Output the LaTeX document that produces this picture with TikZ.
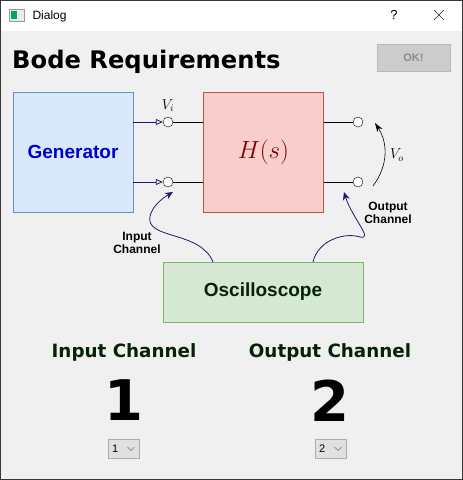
\documentclass[tikz,border=0pt]{standalone}
\usepackage{amsmath}
\usepackage{fontspec}
\setmainfont{Liberation Sans}
\newfontfamily\verdfont{DejaVu Sans}
\usepackage{tikz}
\usetikzlibrary{positioning}
\usetikzlibrary{arrows.meta}
\definecolor{winbg}{HTML}{F0F0F0}
\definecolor{genfill}{HTML}{DAE8FC}
\definecolor{gendraw}{HTML}{6C8EBF}
\definecolor{hfill}{HTML}{F8CECC}
\definecolor{hdraw}{HTML}{B85450}
\definecolor{oscfill}{HTML}{D5E8D4}
\definecolor{oscdraw}{HTML}{82B366}
\definecolor{wire}{HTML}{1A1A6E}
\definecolor{darkgreen}{HTML}{062206}

\begin{document}
\begin{tikzpicture}[x=1pt, y=-1pt,
    blockbox/.style={draw, minimum width=120pt, minimum height=120pt, inner sep=0pt},
    terminal/.style={circle, draw=black, fill=white, minimum size=10pt, inner sep=0pt},
    smalllabel/.style={align=center, font=\fontsize{12}{13}\selectfont\bfseries},
    chanlabel/.style={font=\verdfont\fontsize{18.3}{20}\selectfont\bfseries, text=darkgreen},
    bignum/.style={font=\verdfont\fontsize{56}{60}\selectfont\bfseries},
    combobox/.style={draw=black!32, fill=black!12, minimum width=31pt, minimum height=19pt, inner sep=0pt},
    probe/.style={draw=wire, thick, -{Stealth[length=8pt, width=7pt]}},
    feed/.style={draw=wire, thick, -{Triangle[open, length=7pt, width=6pt]}}]
    \useasboundingbox (0,0) rectangle (463,480);

    % window
    \fill[winbg] (0,31) rectangle (463,480);
    \fill[white] (0,0) rectangle (463,31);
    \draw[black!78, line width=1pt] (0.5,0.5) rectangle (462.5,479.5);
    \draw[black!40, fill=black!8] (9,9) rectangle (24,21);
    \fill[teal!70!green] (11,11) rectangle (17,19);
    \node[anchor=west, font=\fontsize{12}{13}\selectfont] (title) at (29,16) {Dialog};
    \node[font=\fontsize{13}{14}\selectfont] (help) at (394,15) {?};
    \draw[black!85] (434,10) -- (444,20) (434,20) -- (444,10);

    \node[anchor=base west, font=\verdfont\fontsize{24.2}{28}\selectfont\bfseries, inner sep=0pt] (head) at (12,68) {Bode Requirements};
    \node[draw=black!28, fill=black!20, minimum width=73pt, minimum height=27pt, inner sep=0pt,
          text=black!45, font=\fontsize{11}{12}\selectfont\bfseries] (ok) at (413.5,57.5) {OK!};

    % blocks
    \node[blockbox, draw=gendraw, fill=genfill, text={rgb,255:red,0;green,0;blue,204},
          font=\fontsize{19}{20}\selectfont\bfseries] (gen) at (73,152) {Generator};
    \node[blockbox, draw=hdraw, fill=hfill, text={rgb,255:red,128;green,0;blue,0},
          font=\fontsize{23}{25}\selectfont] (hs) [right=70pt of gen] {$H(s)$};
    \node[draw=oscdraw, fill=oscfill, minimum width=200pt, minimum height=60pt, inner sep=0pt,
          text=darkgreen, font=\fontsize{19}{20}\selectfont\bfseries] (osc) at (263,292) {Oscilloscope};

    % terminals
    \node[terminal] (inA)  at (168,122) {};
    \node[terminal] (inB)  at (168,182) {};
    \node[terminal] (outA) at (358,122) {};
    \node[terminal] (outB) at (358,182) {};

    \path[feed] (gen.east |- inA) -- (inA.west);
    \path[feed] (gen.east |- inB) -- (inB.west);
    \draw (inA) -- (hs.west |- inA);
    \draw (inB) -- (hs.west |- inB);
    \draw (hs.east |- outA) -- (outA);
    \draw (hs.east |- outB) -- (outB);

    \node[font=\fontsize{14}{15}\selectfont] (vi) [above=2pt of inA] {$V_i$};

    % output voltage
    \coordinate (vobot) at (373,186);
    \coordinate (votop) at (375,123);
    \draw[-{Stealth[length=9pt, width=6pt]}, semithick] (vobot) to[bend right=35] (votop);
    \node[font=\fontsize{14}{15}\selectfont] (vo) at (397,155) {$V_o$};

    % probes
    \coordinate (pinA) at (213,262);
    \coordinate (pinB) at (313,262);
    \coordinate (tipA) at (173,192);
    \coordinate (tipB) at (344,192);
    \path[probe] (pinA) .. controls (200,230) and (145,240) .. (150,216)
                        .. controls (153,205) and (163,198) .. (tipA);
    \path[probe] (pinB) .. controls (318,240) and (345,232) .. (360,237)
                        .. controls (374,240) and (352,218) .. (tipB);
    \node[smalllabel] (inlab)  at (137,243) {Input\\Channel};
    \node[smalllabel] (outlab) at (388,213) {Output\\Channel};

    % channel selectors
    \node[chanlabel] (inch)  at (124,352) {Input Channel};
    \node[chanlabel] (outch) at (330,352) {Output Channel};
    \node[bignum] (innum)  [below=12pt of inch]  {1};
    \node[bignum] (outnum) [below=12pt of outch] {2};
    \node[combobox] (incb)  at (123.5,448.5) {};
    \node[combobox] (outcb) at (330.5,448.5) {};
    \node[anchor=west, inner xsep=4pt, font=\fontsize{11}{12}\selectfont] at (incb.west)  {1};
    \node[anchor=west, inner xsep=4pt, font=\fontsize{11}{12}\selectfont] at (outcb.west) {2};
    \draw[black!55] ([xshift=4pt]incb.center) ++(0,-1.5) -- ++(3.5,3.5) -- ++(3.5,-3.5);
    \draw[black!55] ([xshift=4pt]outcb.center) ++(0,-1.5) -- ++(3.5,3.5) -- ++(3.5,-3.5);
\end{tikzpicture}
\end{document}
